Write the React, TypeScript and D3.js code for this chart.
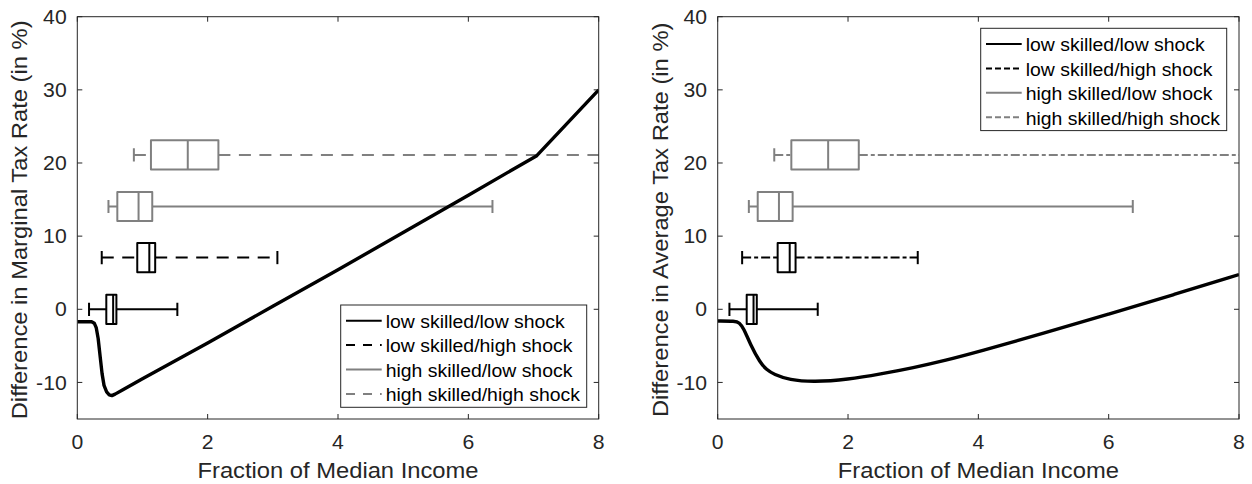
import React from "react";
import * as d3 from "d3";

// ---------- data ----------
const groupLabels = [
  "low skilled/low shock",
  "low skilled/high shock",
  "high skilled/low shock",
  "high skilled/high shock",
];
// vertical placement (y value) of each box plot row
const boxRowY = [0, 7.07, 14.05, 21.1];
const whiskerLow = [0.18, 0.375, 0.478, 0.868];
const quartile1 = [0.445, 0.92, 0.614, 1.13];
const medians = [0.55, 1.105, 0.94, 1.695];
const quartile3 = [0.6, 1.195, 1.15, 2.165];
const whiskerHigh = [1.535, 3.07, 6.37, 8.6];

const xTicks = [0, 2, 4, 6, 8];
const yTicks = [-10, 0, 10, 20, 30, 40];

// marginal tax rate difference curve
const incomeMTR = [0, 0.22, 0.26, 0.29, 0.32, 0.35, 0.38, 0.41, 0.45, 0.49, 0.53, 0.58, 0.7, 1.0, 2.0, 3.0, 4.0, 5.0, 6.0, 7.05, 8.0];
const diffMTR = [-1.7, -1.7, -1.9, -2.5, -4.0, -6.4, -8.8, -10.4, -11.3, -11.7, -11.8, -11.6, -11.0, -9.5, -4.6, 0.4, 5.4, 10.5, 15.6, 21.0, 30.0];

// average tax rate difference curve
const incomeATR = [0, 0.27, 0.33, 0.4, 0.5, 0.65, 0.75, 0.86, 1.1, 1.47, 2.0, 2.5, 3.0, 3.5, 4.0, 5.0, 6.0, 7.0, 8.0];
const diffATR = [-1.6, -1.6, -1.8, -2.6, -4.8, -7.3, -8.25, -8.9, -9.66, -9.95, -9.6, -8.85, -8.0, -6.98, -5.8, -3.3, -0.65, 2.0, 4.75];

// ---------- styling ----------
const FONT = '"Liberation Sans", Arial, Helvetica, sans-serif';
const AXIS = "#262626";
const GRAY = "#808080";

type TProps = {
  x: number;
  y: number;
  size: number;
  sx: number;
  anchor?: "start" | "middle" | "end";
  rotate?: number;
  fill?: string;
  children: React.ReactNode;
};
function T({ x, y, size, sx, anchor = "start", rotate = 0, fill = AXIS, children }: TProps) {
  return (
    <text
      transform={`translate(${x},${y}) rotate(${rotate}) scale(${sx},1)`}
      fontFamily={FONT}
      fontSize={size}
      textAnchor={anchor}
      fill={fill}
    >
      {children}
    </text>
  );
}

type PanelProps = {
  id: string;
  x0: number;
  x1: number;
  yTop: number;
  yBottom: number;
  xs: number[];
  ys: number[];
  curve: d3.CurveFactory;
  ylabel: string;
  whiskerDash: string;
  legendX: number;
  legendY: number;
  legendDash: string;
};

function Panel(p: PanelProps) {
  const x = d3.scaleLinear().domain([0, 8]).range([p.x0, p.x1]);
  const y = d3.scaleLinear().domain([-15, 40]).range([p.yBottom, p.yTop]);
  const line = d3
    .line<number>()
    .x((_, i) => x(p.xs[i]))
    .y((d) => y(d))
    .curve(p.curve);

  const boxHalf = 14.6;
  const capHalf = 6.6;
  const tickLen = 5;
  const legendW = 246;
  const legendH = 102.3;
  const rowGap = 24.4;

  return (
    <g>
      <defs>
        <clipPath id={`clip-${p.id}`}>
          <rect x={p.x0} y={p.yTop} width={p.x1 - p.x0} height={p.yBottom - p.yTop} />
        </clipPath>
      </defs>

      {/* boxplots */}
      <g clipPath={`url(#clip-${p.id})`} strokeLinejoin="round">
        {groupLabels.map((_, i) => {
          const col = i < 2 ? "#000" : GRAY;
          const dash = i % 2 === 1 ? p.whiskerDash : undefined;
          const cy = y(boxRowY[i]);
          return (
            <g key={i} stroke={col} strokeWidth={2} fill="none">
              <line x1={x(whiskerLow[i])} x2={x(quartile1[i])} y1={cy} y2={cy} strokeDasharray={dash} />
              <line x1={x(quartile3[i])} x2={x(whiskerHigh[i])} y1={cy} y2={cy} strokeDasharray={dash} />
              <line x1={x(whiskerLow[i])} x2={x(whiskerLow[i])} y1={cy - capHalf} y2={cy + capHalf} />
              <line x1={x(whiskerHigh[i])} x2={x(whiskerHigh[i])} y1={cy - capHalf} y2={cy + capHalf} />
              <rect
                x={x(quartile1[i])}
                y={cy - boxHalf}
                width={x(quartile3[i]) - x(quartile1[i])}
                height={2 * boxHalf}
                fill="white"
              />
              <line x1={x(medians[i])} x2={x(medians[i])} y1={cy - boxHalf} y2={cy + boxHalf} />
            </g>
          );
        })}
        <path d={line(p.ys) || ""} fill="none" stroke="#000" strokeWidth={3.4} strokeLinejoin="round" />
      </g>

      {/* axes frame */}
      <rect x={p.x0} y={p.yTop} width={p.x1 - p.x0} height={p.yBottom - p.yTop} fill="none" stroke={AXIS} strokeWidth={1} />
      {xTicks.map((t) => (
        <g key={`xt${t}`}>
          <line x1={x(t)} x2={x(t)} y1={p.yBottom} y2={p.yBottom - tickLen} stroke={AXIS} />
          <line x1={x(t)} x2={x(t)} y1={p.yTop} y2={p.yTop + tickLen} stroke={AXIS} />
          <T x={x(t)} y={p.yBottom + 29.5} size={20} sx={1.06} anchor="middle">
            {t}
          </T>
        </g>
      ))}
      {yTicks.map((t) => (
        <g key={`yt${t}`}>
          <line x1={p.x0} x2={p.x0 + tickLen} y1={y(t)} y2={y(t)} stroke={AXIS} />
          <line x1={p.x1} x2={p.x1 - tickLen} y1={y(t)} y2={y(t)} stroke={AXIS} />
          <T x={p.x0 - 10.6} y={y(t) + 7.1} size={20} sx={1.06} anchor="end">
            {t}
          </T>
        </g>
      ))}

      {/* axis labels */}
      <T x={(p.x0 + p.x1) / 2} y={477.5} size={22} sx={1.08} anchor="middle">
        Fraction of Median Income
      </T>
      <T x={p.x0 - 50} y={(p.yTop + p.yBottom) / 2 + 2} size={22} sx={1.08} anchor="middle" rotate={-90}>
        {p.ylabel}
      </T>

      {/* legend */}
      <rect x={p.legendX} y={p.legendY} width={legendW} height={legendH} fill="white" stroke={AXIS} strokeWidth={1} />
      {groupLabels.map((g, i) => {
        const ry = p.legendY + 15.7 + i * rowGap;
        const col = i < 2 ? "#000" : GRAY;
        return (
          <g key={g}>
            <line
              x1={p.legendX + 5.3}
              x2={p.legendX + 41}
              y1={ry}
              y2={ry}
              stroke={col}
              strokeWidth={2}
              strokeDasharray={i % 2 === 1 ? p.legendDash : undefined}
            />
            <T x={p.legendX + 45} y={ry + 7.3} size={18.5} sx={1.05} fill="#000">
              {g}
            </T>
          </g>
        );
      })}
    </g>
  );
}

export default function App() {
  return (
    <svg
      width={1252}
      height={484}
      style={{ position: "absolute", left: 0, top: 0, background: "white" }}
    >
      <rect width={1252} height={484} fill="white" />
      <Panel
        id="mtr"
        x0={77.3}
        x1={598.7}
        yTop={16.7}
        yBottom={419}
        xs={incomeMTR}
        ys={diffMTR}
        curve={d3.curveLinear}
        ylabel="Difference in Marginal Tax Rate (in %)"
        whiskerDash="12,8.5"
        legendX={340.7}
        legendY={305}
        legendDash="9,8"
      />
      <Panel
        id="atr"
        x0={717.7}
        x1={1239}
        yTop={16.7}
        yBottom={419}
        xs={incomeATR}
        ys={diffATR}
        curve={d3.curveBasis}
        ylabel="Difference in Average Tax Rate (in %)"
        whiskerDash="9,3,4,3"
        legendX={980.7}
        legendY={28.3}
        legendDash="6,3"
      />
    </svg>
  );
}
